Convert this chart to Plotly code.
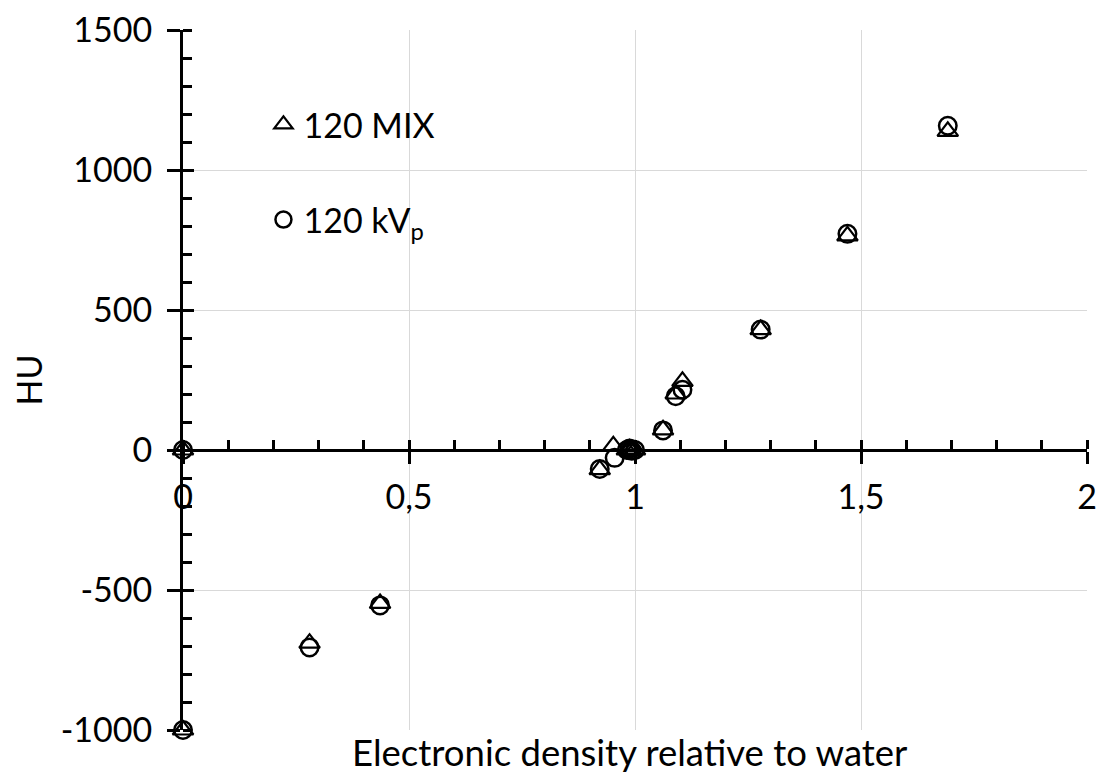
import plotly.graph_objects as go

# Data
x_mix = [0, 0, 0.28, 0.436, 0.922, 0.952, 0.982, 0.988, 0.993, 1.0, 1.062, 1.09, 1.105, 1.278, 1.47, 1.692]
hu_mix = [-1000, 0, -690, -548, -70, 15, 0, 3, -2, 0, 72, 200, 245, 430, 765, 1138]

x_kvp = [0, 0, 0.28, 0.436, 0.922, 0.955, 0.982, 0.988, 0.993, 1.0, 1.062, 1.09, 1.105, 1.278, 1.47, 1.692]
hu_kvp = [-1000, 0, -705, -555, -68, -28, 0, 5, -3, 0, 70, 192, 215, 430, 772, 1158]

x_tickvals = [0, 0.5, 1, 1.5, 2]
x_ticktext = ["0", "0,5", "1", "1,5", "2"]
y_tickvals = [-1000, -500, 0, 500, 1000, 1500]
y_ticktext = ["-1000", "-500", "0", "500", "1000", "1500"]

FONT = "Lato"
FS = 34

fig = go.Figure()
fig.add_trace(go.Scatter(
    x=x_mix, y=hu_mix, mode="markers", name="120 MIX",
    marker=dict(symbol="triangle-up-open", size=18, color="black", line=dict(width=2.2, color="black")),
    cliponaxis=False, legendgroup="a"))
fig.add_trace(go.Scatter(
    x=x_kvp, y=hu_kvp, mode="markers", name="120 kV<sub>p</sub>",
    marker=dict(symbol="circle-open", size=17.5, color="black", line=dict(width=2.5, color="black")),
    cliponaxis=False, legendgroup="b"))
# dummy trace to register overlay axes (inside halves of crossing major ticks)
fig.add_trace(go.Scatter(x=[None], y=[None], xaxis="x2", yaxis="y2", showlegend=False, hoverinfo="skip"))

fig.update_layout(
    width=1096, height=776,
    margin=dict(l=183, r=9, t=30, b=46, autoexpand=False),
    paper_bgcolor="white", plot_bgcolor="white",
    font=dict(family=FONT, size=FS, color="black"),
    showlegend=True,
    legend=dict(x=0.089, y=0.906, xanchor="left", yanchor="top",
                bgcolor="rgba(0,0,0,0)", font=dict(size=FS, family=FONT),
                tracegroupgap=48, traceorder="grouped"),
    xaxis=dict(range=[0, 2], anchor="free", position=0.4, automargin=False,
               tickmode="array", tickvals=x_tickvals, ticktext=x_ticktext,
               ticks="outside", ticklen=12, tickwidth=2.5, tickcolor="black",
               ticklabelstandoff=4, ticklabeloverflow="allow",
               showline=True, linewidth=3, linecolor="black",
               showgrid=True, gridcolor="#d9d9d9", gridwidth=1.3, zeroline=False,
               minor=dict(tickmode="linear", tick0=0, dtick=0.1, ticks="inside", ticklen=9,
                          tickwidth=2.5, tickcolor="black", showgrid=False)),
    yaxis=dict(range=[-1000, 1500], automargin=False,
               tickmode="array", tickvals=y_tickvals, ticktext=y_ticktext,
               ticks="outside", ticklen=13, tickwidth=2.5, tickcolor="black",
               ticklabelstandoff=8, ticklabeloverflow="allow",
               showline=True, linewidth=3, linecolor="black",
               showgrid=True, gridcolor="#d9d9d9", gridwidth=1.3, zeroline=False,
               minor=dict(tickmode="linear", tick0=0, dtick=100, ticks="inside", ticklen=9,
                          tickwidth=2.5, tickcolor="black", showgrid=False)),
    xaxis2=dict(range=[0, 2], overlaying="x", anchor="free", position=0.4, automargin=False,
                tickmode="array", tickvals=x_tickvals, ticks="inside", ticklen=9,
                tickwidth=2.5, tickcolor="black", showticklabels=False,
                showgrid=False, showline=False, zeroline=False),
    yaxis2=dict(range=[-1000, 1500], overlaying="y", anchor="free", position=0, side="left",
                automargin=False,
                tickmode="array", tickvals=y_tickvals, ticks="inside", ticklen=10,
                tickwidth=2.5, tickcolor="black", showticklabels=False,
                showgrid=False, showline=False, zeroline=False),
    annotations=[
        dict(text="Electronic density relative to water", xref="paper", yref="paper",
             x=0.495, y=-0.031, xanchor="center", yanchor="middle", showarrow=False,
             font=dict(size=36.5, family=FONT)),
        dict(text="HU", xref="paper", yref="paper", x=-0.172, y=0.5, textangle=-90,
             xanchor="center", yanchor="middle", showarrow=False,
             font=dict(size=FS, family=FONT)),
    ],
)

fig.write_html("out.html")
